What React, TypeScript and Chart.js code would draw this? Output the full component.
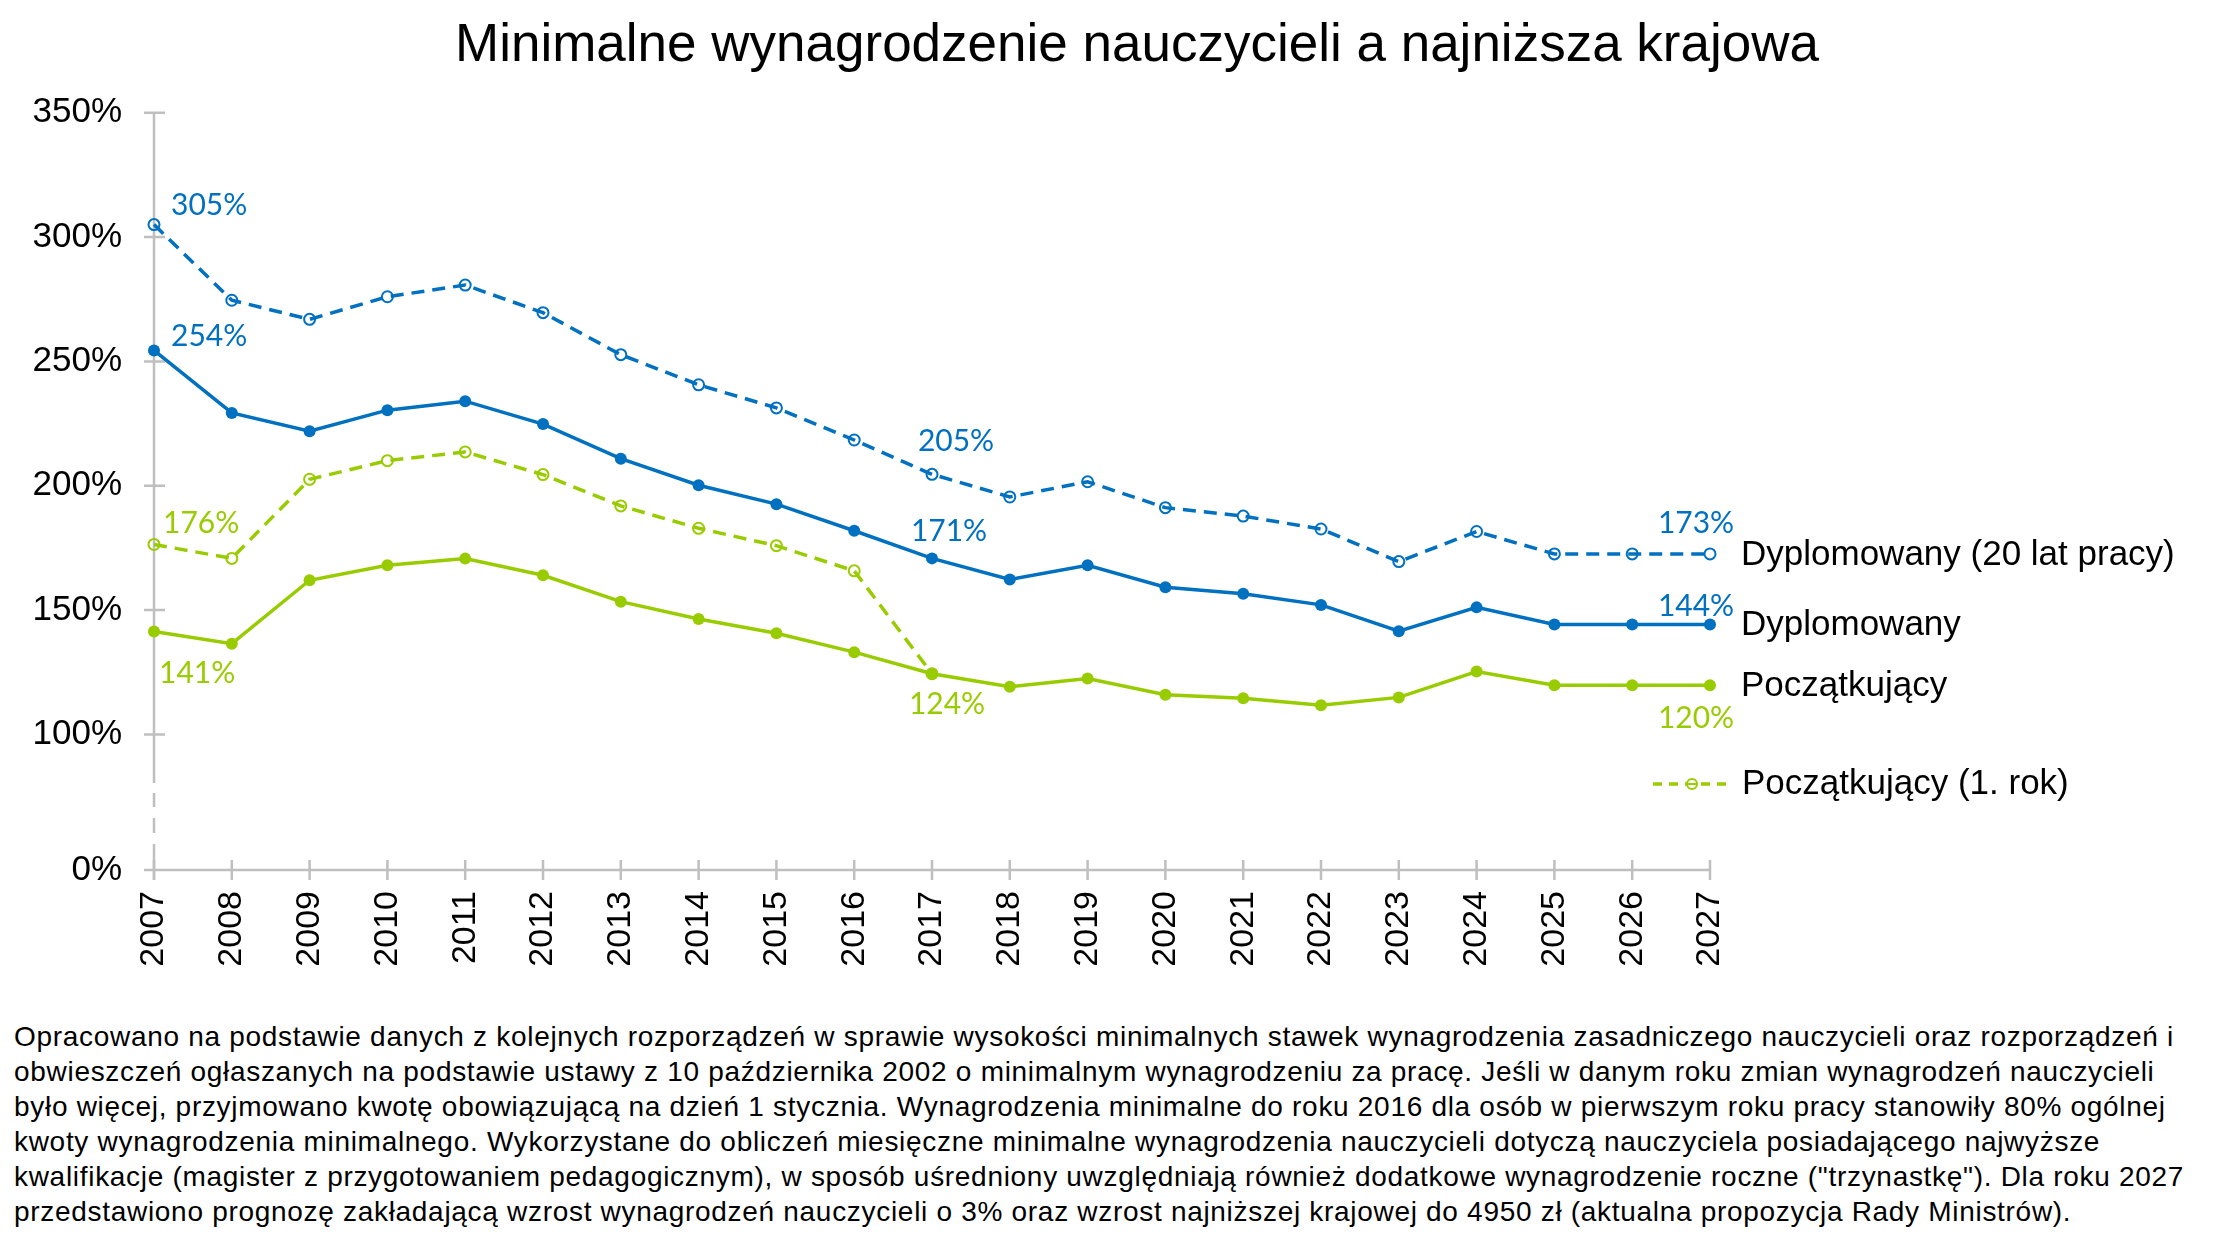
import React, { useEffect, useRef } from 'react'
import { Chart, registerables } from 'chart.js'

Chart.register(...registerables)

const years = [
  '2007', '2008', '2009', '2010', '2011', '2012', '2013', '2014', '2015', '2016', '2017',
  '2018', '2019', '2020', '2021', '2022', '2023', '2024', '2025', '2026', '2027',
]

const dyplomowany20 = [
  305.0, 274.6, 266.9, 276.0, 280.7, 269.6, 252.7, 240.6, 231.3, 218.4, 204.6,
  195.5, 201.6, 191.2, 187.8, 182.6, 169.5, 181.6, 172.6, 172.6, 172.6,
]
const dyplomowany = [
  254.4, 229.3, 221.9, 230.4, 234.0, 224.8, 210.9, 200.2, 192.6, 181.9, 170.8,
  162.3, 168.0, 159.2, 156.6, 152.1, 141.5, 151.1, 144.2, 144.2, 144.2,
]
const poczatkujacy = [
  141.4, 136.5, 162.0, 168.0, 170.7, 164.0, 153.4, 146.4, 140.7, 133.1, 124.4,
  119.2, 122.5, 116.0, 114.6, 111.7, 114.9, 125.3, 119.8, 119.8, 119.8,
]
// pierwszy rok pracy: do 2016 liczone jako 80%, od 2017 równe stawce początkującego
const poczatkujacy1 = [
  176.4, 170.8, 202.6, 210.1, 213.6, 204.5, 191.9, 182.9, 175.9, 165.8, 124.4,
  null, null, null, null, null, null, null, null, null, null,
]

// oś y jest przerwana: dolny koniec osi opisany jako 0%
const yTickValues = [0, 100, 150, 200, 250, 300, 350]
const AXIS_BREAK = 45.5

const BLUE = '#0070C0'
const GREEN = '#99CC00'
const AXIS = '#BFBFBF'
const SANS = '"Liberation Sans", Arial, sans-serif'
const LABEL_FONT = 'Lato, "Open Sans", sans-serif'

const title = 'Minimalne wynagrodzenie nauczycieli a najniższa krajowa'

const footnote = [
  'Opracowano na podstawie danych z kolejnych rozporządzeń w sprawie wysokości minimalnych stawek wynagrodzenia zasadniczego nauczycieli oraz rozporządzeń i',
  'obwieszczeń ogłaszanych na podstawie ustawy z 10 października 2002 o minimalnym wynagrodzeniu za pracę. Jeśli w danym roku zmian wynagrodzeń nauczycieli',
  'było więcej, przyjmowano kwotę obowiązującą na dzień 1 stycznia. Wynagrodzenia minimalne do roku 2016 dla osób w pierwszym roku pracy stanowiły 80% ogólnej',
  'kwoty wynagrodzenia minimalnego. Wykorzystane do obliczeń miesięczne minimalne wynagrodzenia nauczycieli dotyczą nauczyciela posiadającego najwyższe',
  'kwalifikacje (magister z przygotowaniem pedagogicznym), w sposób uśredniony uwzględniają również dodatkowe wynagrodzenie roczne ("trzynastkę"). Dla roku 2027',
  'przedstawiono prognozę zakładającą wzrost wynagrodzeń nauczycieli o 3% oraz wzrost najniższej krajowej do 4950 zł (aktualna propozycja Rady Ministrów).',
]

// dataset order: 0 Początkujący, 1 Dyplomowany, 2 Początkujący (1. rok), 3 Dyplomowany (20 lat)
const valueLabels = [
  { ds: 3, i: 0, dx: 17, dy: -19, align: 'left' },
  { ds: 1, i: 0, dx: 17, dy: -14, align: 'left' },
  { ds: 2, i: 0, dx: 9, dy: -21, align: 'left' },
  { ds: 0, i: 0, dx: 5, dy: 42, align: 'left' },
  { ds: 3, i: 10, dx: 24, dy: -33, align: 'center' },
  { ds: 1, i: 10, dx: 17, dy: -27, align: 'center' },
  { ds: 0, i: 10, dx: 15, dy: 31, align: 'center' },
  { ds: 3, i: 20, dx: -14, dy: -31, align: 'center' },
  { ds: 1, i: 20, dx: -14, dy: -18, align: 'center' },
  { ds: 0, i: 20, dx: -14, dy: 33, align: 'center' },
]

const decorPlugin = {
  id: 'decor',
  beforeDatasetsDraw(chart: any) {
    const { ctx, chartArea } = chart
    const y = chart.scales.y
    const x = chart.scales.x
    const left = chartArea.left
    const bottom = chartArea.bottom
    ctx.save()
    ctx.strokeStyle = AXIS
    ctx.lineWidth = 2.5
    // y axis: solid, then broken near the bottom
    ctx.beginPath()
    ctx.moveTo(left, y.getPixelForValue(350))
    ctx.lineTo(left, bottom - 87)
    for (const [a, b] of [[-77, -63], [-52, -37], [-26, 10]]) {
      ctx.moveTo(left, bottom + a)
      ctx.lineTo(left, bottom + b)
    }
    ctx.stroke()
    // y ticks
    ctx.beginPath()
    for (const v of yTickValues) {
      if (v === 0) continue
      const py = y.getPixelForValue(v)
      ctx.moveTo(left - 10, py)
      ctx.lineTo(left + 11, py)
    }
    // x axis + ticks
    ctx.moveTo(left - 10, bottom)
    ctx.lineTo(chartArea.right, bottom)
    years.forEach((_, i) => {
      const px = x.getPixelForValue(i)
      ctx.moveTo(px, bottom - 10)
      ctx.lineTo(px, bottom + 10)
    })
    ctx.stroke()
    ctx.restore()
  },
  afterDatasetsDraw(chart: any) {
    const { ctx, chartArea } = chart
    ctx.save()
    // value labels
    ctx.font = `30px ${LABEL_FONT}`
    ctx.textBaseline = 'middle'
    for (const l of valueLabels) {
      const ds = chart.data.datasets[l.ds]
      const pt = chart.getDatasetMeta(l.ds).data[l.i]
      ctx.fillStyle = ds.borderColor
      ctx.textAlign = l.align
      ctx.fillText(Math.round(ds.data[l.i]) + '%', pt.x + l.dx, pt.y + l.dy)
    }
    // series names at the line ends
    ctx.font = `35px ${SANS}`
    ctx.fillStyle = '#000'
    ctx.textAlign = 'left'
    ;[3, 1, 0].forEach((d) => {
      const meta = chart.getDatasetMeta(d)
      const pt = meta.data[meta.data.length - 1]
      ctx.fillText(chart.data.datasets[d].label, pt.x + 31, pt.y + 1)
    })
    // legend entry for the series that ends in 2017
    const ly = 784
    const lx = chartArea.right - 57
    ctx.strokeStyle = GREEN
    ctx.lineWidth = 3.5
    ctx.setLineDash([9, 7])
    ctx.beginPath()
    ctx.moveTo(lx, ly)
    ctx.lineTo(lx + 76, ly)
    ctx.stroke()
    ctx.setLineDash([])
    ctx.lineWidth = 2
    ctx.fillStyle = '#fff'
    ctx.beginPath()
    ctx.arc(lx + 39, ly, 5, 0, Math.PI * 2)
    ctx.fill()
    ctx.stroke()
    ctx.beginPath()
    ctx.moveTo(lx + 34, ly)
    ctx.lineTo(lx + 44, ly)
    ctx.stroke()
    ctx.fillStyle = '#000'
    ctx.fillText(chart.data.datasets[2].label, chartArea.right + 32, ly)
    // title
    ctx.font = `53px ${SANS}`
    ctx.textAlign = 'center'
    ctx.textBaseline = 'alphabetic'
    ctx.fillText(title, 1137, 61)
    ctx.restore()
  },
}

const solid = (label: string, data: number[], color: string) => ({
  label,
  data,
  borderColor: color,
  backgroundColor: color,
  borderWidth: 3.5,
  pointRadius: 6,
  pointBorderWidth: 0,
  pointBackgroundColor: color,
  tension: 0,
})

const dashed = (label: string, data: (number | null)[], color: string) => ({
  label,
  data,
  borderColor: color,
  backgroundColor: color,
  borderWidth: 3.5,
  borderDash: [13, 8],
  pointRadius: 5.5,
  pointBorderWidth: 2,
  pointBorderColor: color,
  pointBackgroundColor: 'rgba(255,255,255,0)',
  tension: 0,
  spanGaps: false,
})

const App = () => {
  const chartRef = useRef<HTMLCanvasElement | null>(null)

  useEffect(() => {
    document.body.style.margin = '0'
    if (!chartRef.current) return
    const chart = new Chart(chartRef.current, {
      type: 'line',
      data: {
        labels: years,
        datasets: [
          solid('Początkujący', poczatkujacy, GREEN),
          solid('Dyplomowany', dyplomowany, BLUE),
          dashed('Początkujący (1. rok)', poczatkujacy1, GREEN),
          dashed('Dyplomowany (20 lat pracy)', dyplomowany20, BLUE),
        ] as any,
      },
      options: {
        animation: false,
        responsive: false,
        maintainAspectRatio: false,
        layout: { padding: { top: 112.7, right: 514, left: 0, bottom: 0 } },
        plugins: {
          legend: { display: false },
          tooltip: { enabled: false },
        },
        scales: {
          x: {
            offset: false,
            grid: { display: false, drawTicks: false },
            border: { display: false },
            ticks: {
              autoSkip: false,
              minRotation: 90,
              maxRotation: 90,
              padding: 21,
              color: '#000',
              font: { family: SANS, size: 34 },
            },
            afterFit: (s: any) => {
              s.height = 120
            },
          },
          y: {
            min: AXIS_BREAK,
            max: 350,
            grid: { display: false, drawTicks: false },
            border: { display: false },
            afterBuildTicks: (s: any) => {
              s.ticks = yTickValues.map((v) => ({ value: v === 0 ? AXIS_BREAK : v }))
            },
            ticks: {
              padding: 32,
              color: '#000',
              font: { family: SANS, size: 35 },
              callback: (v: any) => (v === AXIS_BREAK ? '0%' : v + '%'),
            },
            afterFit: (s: any) => {
              s.width = 154
            },
          },
        },
      },
      plugins: [decorPlugin],
    })

    // Cleanup on component unmount
    return () => chart.destroy()
  }, [])

  return (
    <div style={{ position: 'relative', width: 2224, height: 1250, background: '#fff' }}>
      <canvas ref={chartRef} width={2224} height={990} style={{ display: 'block' }} />
      <div
        style={{
          position: 'absolute',
          left: 14,
          top: 1019,
          fontFamily: SANS,
          fontSize: 28,
          letterSpacing: '0.7px',
          lineHeight: '35px',
          color: '#000',
        }}
      >
        {footnote.map((line, i) => (
          <div key={i} style={{ whiteSpace: 'nowrap' }}>
            {line}
          </div>
        ))}
      </div>
    </div>
  )
}

export default App
